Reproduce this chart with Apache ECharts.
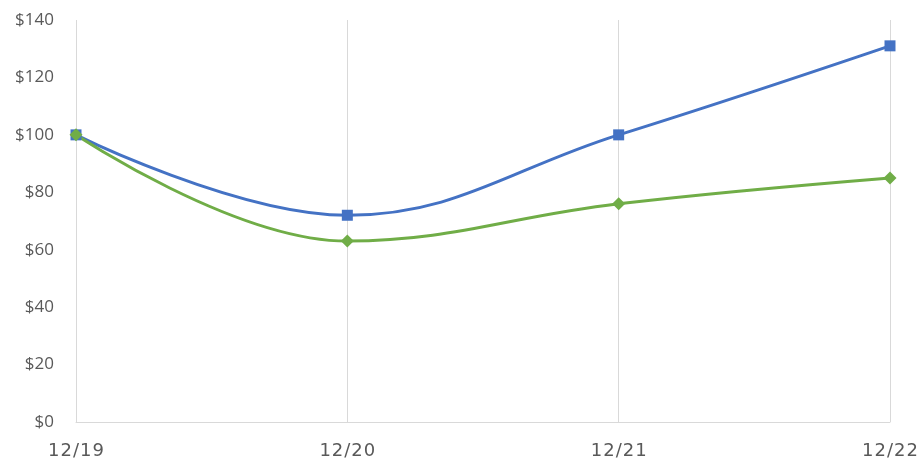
<!DOCTYPE html>
<html>
<head>
<meta charset="utf-8">
<script src="https://cdn.jsdelivr.net/npm/echarts@6/dist/echarts.min.js"></script>
<style>
  html, body { margin: 0; padding: 0; background: #fff; }
  #chart { width: 923px; height: 464px; }
</style>
</head>
<body>
<div id="chart"></div>
<script>
// dates on the x axis
const dates = ['12/19', '12/20', '12/21', '12/22']
// values
const blueValues = [100, 72, 100, 131]
const greenValues = [100, 63, 76, 85]

// spread the date letters a little, the source uses wide spacing
const spaced = s => s.split('').map(c => '{c|' + c + '}').join('')

const chart = echarts.init(document.getElementById('chart'))
chart.setOption({
  animation: false,
  grid: { left: 76, right: 33, top: 20, bottom: 42 },
  xAxis: {
    type: 'category',
    data: dates,
    boundaryGap: false,
    axisLine: { lineStyle: { color: '#d9d9d9', width: 1 } },
    axisTick: { show: false },
    splitLine: { show: true, lineStyle: { color: '#d9d9d9', width: 1 } },
    axisLabel: {
      margin: 20,
      formatter: spaced,
      rich: {
        c: { color: '#595959', fontSize: 18, fontFamily: 'DejaVu Sans', padding: [0, 0.5, 0, 0.5] }
      }
    }
  },
  yAxis: {
    type: 'value',
    min: 0,
    max: 140,
    interval: 20,
    axisLine: { show: false },
    axisTick: { show: false },
    splitLine: { show: false },
    axisLabel: {
      color: '#595959',
      fontSize: 17,
      fontFamily: 'Open Sans',
      margin: 22,
      formatter: v => '$' + v
    }
  },
  series: [
    {
      name: 'blue',
      type: 'line',
      data: blueValues,
      smooth: 0.4,
      symbol: 'rect',
      symbolSize: 11,
      lineStyle: { color: '#4472c4', width: 3 },
      itemStyle: { color: '#4472c4' }
    },
    {
      name: 'green',
      type: 'line',
      data: greenValues,
      smooth: 0.4,
      symbol: 'diamond',
      symbolSize: 13,
      lineStyle: { color: '#70ad47', width: 3 },
      itemStyle: { color: '#70ad47' }
    }
  ]
})
</script>
</body>
</html>
